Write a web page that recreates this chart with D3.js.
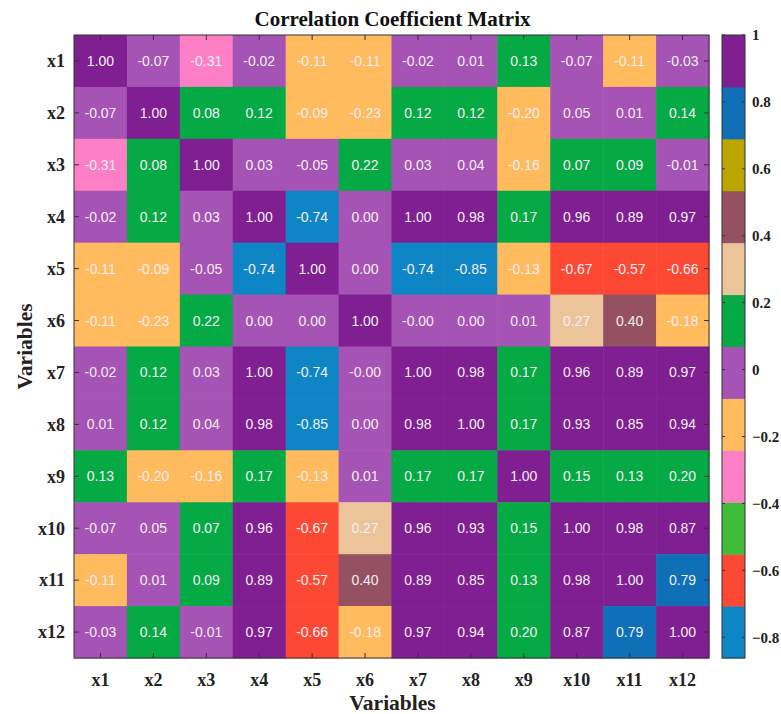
<!DOCTYPE html>
<html>
<head>
<meta charset="utf-8">
<script src="https://cdn.jsdelivr.net/npm/d3@7"></script>
<style>
  body { margin: 0; background: #fff; }
  svg { display: block; }
</style>
</head>
<body>
<div id="chart"></div>
<script>
const variables = ["x1", "x2", "x3", "x4", "x5", "x6", "x7", "x8", "x9", "x10", "x11", "x12"];

const matrix = [
  [ 1.00, -0.07, -0.31, -0.02, -0.11, -0.11, -0.02,  0.01,  0.13, -0.07, -0.11, -0.03],
  [-0.07,  1.00,  0.08,  0.12, -0.09, -0.23,  0.12,  0.12, -0.20,  0.05,  0.01,  0.14],
  [-0.31,  0.08,  1.00,  0.03, -0.05,  0.22,  0.03,  0.04, -0.16,  0.07,  0.09, -0.01],
  [-0.02,  0.12,  0.03,  1.00, -0.74,  0.00,  1.00,  0.98,  0.17,  0.96,  0.89,  0.97],
  [-0.11, -0.09, -0.05, -0.74,  1.00,  0.00, -0.74, -0.85, -0.13, -0.67, -0.57, -0.66],
  [-0.11, -0.23,  0.22,  0.00,  0.00,  1.00, -0.00,  0.00,  0.01,  0.27,  0.40, -0.18],
  [-0.02,  0.12,  0.03,  1.00, -0.74, -0.00,  1.00,  0.98,  0.17,  0.96,  0.89,  0.97],
  [ 0.01,  0.12,  0.04,  0.98, -0.85,  0.00,  0.98,  1.00,  0.17,  0.93,  0.85,  0.94],
  [ 0.13, -0.20, -0.16,  0.17, -0.13,  0.01,  0.17,  0.17,  1.00,  0.15,  0.13,  0.20],
  [-0.07,  0.05,  0.07,  0.96, -0.67,  0.27,  0.96,  0.93,  0.15,  1.00,  0.98,  0.87],
  [-0.11,  0.01,  0.09,  0.89, -0.57,  0.40,  0.89,  0.85,  0.13,  0.98,  1.00,  0.79],
  [-0.03,  0.14, -0.01,  0.97, -0.66, -0.18,  0.97,  0.94,  0.20,  0.87,  0.79,  1.00]
];

// colour limits and the 12 colours of the colormap, from low to high
const colorLimits = [-0.862, 1];
const palette = [
  "#0e86c6", "#fd4934", "#40bb3a", "#fd80c6", "#ffbb5e", "#a553b4",
  "#05aa45", "#ecc49a", "#955062", "#bda500", "#0f70b8", "#7f1f91"
];
const colorTicks = [-0.8, -0.6, -0.4, -0.2, 0, 0.2, 0.4, 0.6, 0.8, 1];

const width = 781, height = 714;
const plot = { left: 74, top: 35, width: 635, height: 623 };
const bar = { left: 722, width: 23 };

const cells = [];
matrix.forEach((row, i) => row.forEach((v, j) => cells.push({ row: variables[i], col: variables[j], value: v })));

// keep the sign of -0.00 like matlab does
const fmtCell = v => (Object.is(v, -0) ? "-" : "") + v.toFixed(2);

const svg = d3.select("#chart").append("svg")
  .attr("width", width)
  .attr("height", height);

const x = d3.scaleBand().domain(variables).range([plot.left, plot.left + plot.width]);
const y = d3.scaleBand().domain(variables).range([plot.top, plot.top + plot.height]);
const color = d3.scaleQuantize().domain(colorLimits).range(palette);

// cells
svg.append("g")
  .selectAll("rect")
  .data(cells)
  .join("rect")
    .attr("x", d => x(d.col))
    .attr("y", d => y(d.row))
    .attr("width", x.bandwidth() + 0.5)
    .attr("height", y.bandwidth() + 0.5)
    .attr("fill", d => color(d.value));

// cell labels
svg.append("g")
  .selectAll("text")
  .data(cells)
  .join("text")
    .attr("x", d => x(d.col) + x.bandwidth() / 2)
    .attr("y", d => y(d.row) + y.bandwidth() / 2)
    .attr("text-anchor", "middle")
    .attr("dominant-baseline", "central")
    .attr("font-family", "'Liberation Sans', Arial, sans-serif")
    .attr("font-size", 14)
    .attr("fill", "#f4eef4")
    .text(d => fmtCell(d.value));

// axes with inside ticks (matlab style)
const tickLen = 5;
const axisFont = "'Liberation Serif', 'Times New Roman', serif";

const xTicks = svg.append("g");
variables.forEach(v => {
  const cx = x(v) + x.bandwidth() / 2;
  xTicks.append("line").attr("x1", cx).attr("x2", cx)
    .attr("y1", plot.top + plot.height).attr("y2", plot.top + plot.height - tickLen);
  xTicks.append("line").attr("x1", cx).attr("x2", cx)
    .attr("y1", plot.top).attr("y2", plot.top + tickLen);
  xTicks.append("text")
    .attr("x", cx)
    .attr("y", plot.top + plot.height + 28)
    .attr("text-anchor", "middle")
    .text(v);
});

const yTicks = svg.append("g");
variables.forEach(v => {
  const cy = y(v) + y.bandwidth() / 2;
  yTicks.append("line").attr("y1", cy).attr("y2", cy)
    .attr("x1", plot.left).attr("x2", plot.left + tickLen);
  yTicks.append("line").attr("y1", cy).attr("y2", cy)
    .attr("x1", plot.left + plot.width).attr("x2", plot.left + plot.width - tickLen);
  yTicks.append("text")
    .attr("x", plot.left - 9)
    .attr("y", cy)
    .attr("dy", "0.35em")
    .attr("text-anchor", "end")
    .text(v);
});

svg.selectAll("g line").attr("stroke", "#333").attr("stroke-width", 1);
[xTicks, yTicks].forEach(g => g.selectAll("text")
  .attr("font-family", axisFont)
  .attr("font-weight", "bold")
  .attr("font-size", 18)
  .attr("fill", "#222"));

// box
svg.append("rect")
  .attr("x", plot.left).attr("y", plot.top)
  .attr("width", plot.width).attr("height", plot.height)
  .attr("fill", "none")
  .attr("stroke", "#333")
  .attr("stroke-width", 1);

// title and axis labels
svg.append("text")
  .attr("x", plot.left + plot.width / 2 + 1)
  .attr("y", 26)
  .attr("text-anchor", "middle")
  .attr("font-family", axisFont)
  .attr("font-weight", "bold")
  .attr("font-size", 21)
  .attr("fill", "#111")
  .text("Correlation Coefficient Matrix");

svg.append("text")
  .attr("x", plot.left + plot.width / 2 + 1)
  .attr("y", 710)
  .attr("text-anchor", "middle")
  .attr("font-family", axisFont)
  .attr("font-weight", "bold")
  .attr("font-size", 21.5)
  .attr("fill", "#222")
  .text("Variables");

svg.append("text")
  .attr("transform", `translate(32, ${plot.top + plot.height / 2}) rotate(-90)`)
  .attr("text-anchor", "middle")
  .attr("font-family", axisFont)
  .attr("font-weight", "bold")
  .attr("font-size", 21.5)
  .attr("fill", "#222")
  .text("Variables");

// colorbar
const cbar = svg.append("g");
const cy = d3.scaleLinear().domain(colorLimits).range([plot.top + plot.height, plot.top]);
const step = (colorLimits[1] - colorLimits[0]) / palette.length;

cbar.selectAll("rect.band")
  .data(palette)
  .join("rect")
    .attr("class", "band")
    .attr("x", bar.left)
    .attr("width", bar.width)
    .attr("y", (d, i) => cy(colorLimits[0] + (i + 1) * step))
    .attr("height", (d, i) => cy(colorLimits[0] + i * step) - cy(colorLimits[0] + (i + 1) * step) + 0.5)
    .attr("fill", d => d);

cbar.append("rect")
  .attr("x", bar.left).attr("y", plot.top)
  .attr("width", bar.width).attr("height", plot.height)
  .attr("fill", "none")
  .attr("stroke", "#333");

colorTicks.forEach(t => {
  const ty = cy(t);
  cbar.append("line").attr("x1", bar.left).attr("x2", bar.left + 3).attr("y1", ty).attr("y2", ty)
    .attr("stroke", "#333");
  cbar.append("line").attr("x1", bar.left + bar.width).attr("x2", bar.left + bar.width - 3).attr("y1", ty).attr("y2", ty)
    .attr("stroke", "#333");
  cbar.append("text")
    .attr("x", bar.left + bar.width + 7)
    .attr("y", ty)
    .attr("dy", "0.35em")
    .attr("font-family", axisFont)
    .attr("font-weight", "bold")
    .attr("font-size", 15)
    .attr("fill", "#222")
    .text(t === 0 || t === 1 ? String(t) : d3.format(".1f")(t));
});
</script>
</body>
</html>
